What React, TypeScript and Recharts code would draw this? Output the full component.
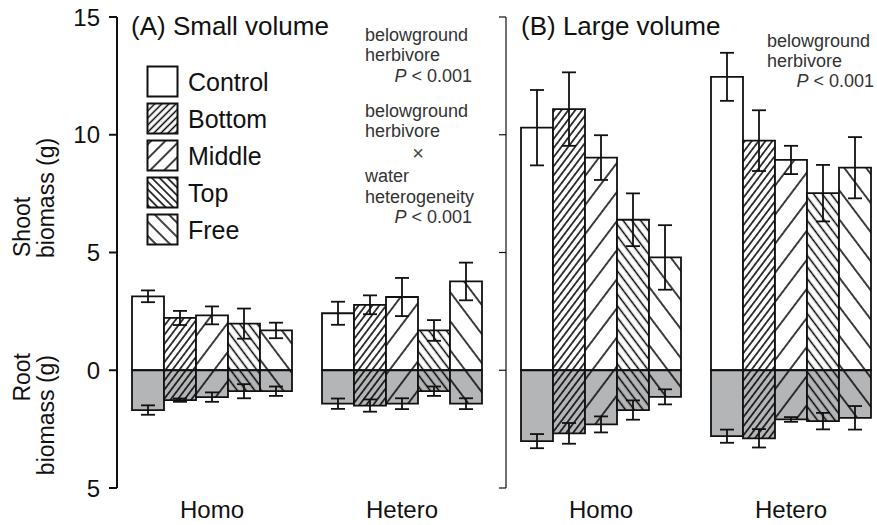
import { Bar, BarChart, ErrorBar, Legend, XAxis, YAxis } from 'recharts'

const treatments = ['Control', 'Bottom', 'Middle', 'Top', 'Free']
const groups = ['Homo', 'Hetero']
const yTicks = [-5, 0, 5, 10, 15]

// (A) small volume — shoot up, root down (root read as positive g)
const smallHomoShoot = [3.14, 2.22, 2.33, 1.98, 1.69]
const smallHomoShootSe = [0.25, 0.3, 0.38, 0.64, 0.33]
const smallHomoRoot = [1.69, 1.27, 1.14, 0.89, 0.89]
const smallHomoRootSe = [0.2, 0.07, 0.2, 0.3, 0.2]
const smallHeteroShoot = [2.42, 2.78, 3.11, 1.69, 3.77]
const smallHeteroShootSe = [0.49, 0.4, 0.81, 0.44, 0.8]
const smallHeteroRoot = [1.42, 1.5, 1.42, 0.89, 1.42]
const smallHeteroRootSe = [0.22, 0.26, 0.23, 0.2, 0.23]

// (B) large volume
const largeHomoShoot = [10.3, 11.09, 9.03, 6.39, 4.79]
const largeHomoShootSe = [1.6, 1.56, 0.95, 1.12, 1.37]
const largeHomoRoot = [3.01, 2.68, 2.3, 1.69, 1.13]
const largeHomoRootSe = [0.3, 0.44, 0.34, 0.41, 0.32]
const largeHeteroShoot = [12.46, 9.75, 8.93, 7.52, 8.6]
const largeHeteroShootSe = [1.02, 1.29, 0.6, 1.2, 1.3]
const largeHeteroRoot = [2.8, 2.89, 2.09, 2.16, 2.02]
const largeHeteroRootSe = [0.28, 0.39, 0.1, 0.35, 0.5]

type Row = Record<string, string | number>

function buildRows(
  sets: { shoot: number[]; shootSe: number[]; root: number[]; rootSe: number[] }[],
): Row[] {
  return groups.map((g, gi) => {
    const s = sets[gi]
    const row: Row = { group: g }
    treatments.forEach((t, i) => {
      row[`${t}Shoot`] = s.shoot[i]
      row[`${t}ShootSe`] = s.shootSe[i]
      row[`${t}Root`] = -s.root[i]
      row[`${t}RootSe`] = s.rootSe[i]
    })
    return row
  })
}

const smallData = buildRows([
  { shoot: smallHomoShoot, shootSe: smallHomoShootSe, root: smallHomoRoot, rootSe: smallHomoRootSe },
  { shoot: smallHeteroShoot, shootSe: smallHeteroShootSe, root: smallHeteroRoot, rootSe: smallHeteroRootSe },
])
const largeData = buildRows([
  { shoot: largeHomoShoot, shootSe: largeHomoShootSe, root: largeHomoRoot, rootSe: largeHomoRootSe },
  { shoot: largeHeteroShoot, shootSe: largeHeteroShootSe, root: largeHeteroRoot, rootSe: largeHeteroRootSe },
])

const INK = '#111'
const ROOT_GREY = '#b4b5b7'
const FONT = '"Liberation Sans", Arial, sans-serif'

const hatch: Record<string, { angle: number; gap: number; legendGap: number } | null> = {
  Control: null,
  Bottom: { angle: 37, gap: 5.5, legendGap: 5 },
  Middle: { angle: 37, gap: 17.5, legendGap: 10 },
  Top: { angle: -37, gap: 7, legendGap: 5.5 },
  Free: { angle: -37, gap: 17.5, legendGap: 10 },
}

function fillFor(t: string, part: 'shoot' | 'root' | 'legend') {
  if (!hatch[t]) return part === 'root' ? ROOT_GREY : '#fff'
  return `url(#hatch-${t}-${part})`
}

function Patterns() {
  const defs: JSX.Element[] = []
  treatments.forEach((t) => {
    const h = hatch[t]
    if (!h) return
    const variants: [string, string, number, number][] = [
      ['shoot', '#fff', h.gap, h.angle],
      ['root', ROOT_GREY, h.gap, h.angle],
      ['legend', '#fff', h.legendGap, h.angle > 0 ? 45 : -45],
    ]
    variants.forEach(([part, bg, gap, angle]) => {
      defs.push(
        <pattern
          key={`${t}-${part}`}
          id={`hatch-${t}-${part}`}
          patternUnits="userSpaceOnUse"
          width={gap}
          height={gap}
          patternTransform={`rotate(${angle})`}
        >
          <rect width={gap} height={gap} fill={bg} />
          <line x1={gap / 2} y1={0} x2={gap / 2} y2={gap} stroke="#000" strokeWidth={1.5} />
        </pattern>,
      )
    })
  })
  return (
    <svg width={0} height={0} style={{ position: 'absolute' }}>
      <defs>{defs}</defs>
    </svg>
  )
}

function LegendSwatches() {
  return (
    <svg width={200} height={190} style={{ fontFamily: FONT }}>
      {treatments.map((t, i) => (
        <g key={t} transform={`translate(0, ${i * 37})`}>
          <rect x={1.5} y={1.5} width={30} height={30} fill={fillFor(t, 'legend')} stroke={INK} strokeWidth={2} />
          <text x={42} y={17} dominantBaseline="central" fontSize={25} fill={INK}>
            {t}
          </text>
        </g>
      ))}
    </svg>
  )
}

function bars() {
  const out: JSX.Element[] = []
  treatments.forEach((t) => {
    out.push(
      <Bar key={`${t}s`} dataKey={`${t}Shoot`} stackId={t} fill={fillFor(t, 'shoot')} stroke={INK} strokeWidth={1.8} isAnimationActive={false}>
        <ErrorBar dataKey={`${t}ShootSe`} direction="y" width={7} stroke={INK} strokeWidth={1.8} isAnimationActive={false} />
      </Bar>,
      <Bar key={`${t}r`} dataKey={`${t}Root`} stackId={t} fill={fillFor(t, 'root')} stroke={INK} strokeWidth={1.8} isAnimationActive={false}>
        <ErrorBar dataKey={`${t}RootSe`} direction="y" width={7} stroke={INK} strokeWidth={1.8} isAnimationActive={false} />
      </Bar>,
    )
  })
  return out
}

const xTick = { fontSize: 24, fill: INK, fontFamily: FONT }

export default function App() {
  return (
    <div
      style={{
        position: 'absolute',
        left: 0,
        top: 0,
        width: 877,
        height: 525,
        overflow: 'hidden',
        background: '#fff',
        fontFamily: FONT,
      }}
    >
      <Patterns />

      <div style={{ position: 'absolute', left: 0, top: 0 }}>
        <BarChart
          width={500}
          height={525}
          data={smallData}
          stackOffset="sign"
          barCategoryGap={15}
          barGap={0}
          margin={{ top: 17, right: 3, bottom: 0, left: 0 }}
        >
          <XAxis dataKey="group" axisLine={false} tickLine={false} tickSize={5} tickMargin={8} height={37} tick={xTick} />
          <YAxis
            width={117}
            domain={[-5, 15]}
            ticks={yTicks}
            allowDataOverflow
            tickFormatter={(v: number) => `${Math.abs(v)}`}
            tick={{ fontSize: 24, fill: INK, fontFamily: FONT }}
            tickSize={8}
            tickMargin={9}
            axisLine={{ stroke: INK, strokeWidth: 2 }}
            tickLine={{ stroke: INK, strokeWidth: 2 }}
          />
          <Legend
            layout="vertical"
            align="center"
            verticalAlign="middle"
            wrapperStyle={{ left: 146, top: 65, width: 200, height: 190 }}
            content={() => <LegendSwatches />}
          />
          {bars()}
        </BarChart>
      </div>

      <div style={{ position: 'absolute', left: 400, top: 0 }}>
        <BarChart
          width={500}
          height={525}
          data={largeData}
          stackOffset="sign"
          barCategoryGap={15}
          barGap={0}
          margin={{ top: 17, right: 14, bottom: 0, left: 0 }}
        >
          <XAxis dataKey="group" axisLine={false} tickLine={false} tickSize={5} tickMargin={8} height={37} tick={xTick} />
          <YAxis
            width={106}
            domain={[-5, 15]}
            ticks={yTicks}
            allowDataOverflow
            tickFormatter={() => ''}
            tickSize={7}
            axisLine={{ stroke: INK, strokeWidth: 1.2 }}
            tickLine={{ stroke: INK, strokeWidth: 1.2 }}
          />
          {bars()}
        </BarChart>
      </div>

      <svg
        width={877}
        height={525}
        style={{ position: 'absolute', left: 0, top: 0, pointerEvents: 'none', fontFamily: FONT }}
      >
        <g fontSize={23} fill={INK}>
          <text x={30} y={257} transform="rotate(-90 30 257)">Shoot</text>
          <text x={54} y={258} transform="rotate(-90 54 258)">biomass (g)</text>
          <text x={30} y={353} textAnchor="end" transform="rotate(-90 30 353)">Root</text>
          <text x={54} y={355} textAnchor="end" transform="rotate(-90 54 355)">biomass (g)</text>
        </g>
        <g fontSize={26} fill={INK}>
          <text x={131} y={35}>(A) Small volume</text>
          <text x={521} y={35}>(B) Large volume</text>
        </g>
        <g fontSize={18} fill="#333">
          <text x={365} y={41}>belowground</text>
          <text x={365} y={61}>herbivore</text>
          <text x={472} y={82} textAnchor="end"><tspan fontStyle="italic">P</tspan> &lt; 0.001</text>
          <text x={365} y={117}>belowground</text>
          <text x={365} y={137}>herbivore</text>
          <text x={418} y={160} textAnchor="middle" fontSize={20} fill="#444">×</text>
          <text x={365} y={182}>water</text>
          <text x={365} y={203}>heterogeneity</text>
          <text x={472} y={223} textAnchor="end"><tspan fontStyle="italic">P</tspan> &lt; 0.001</text>
          <text x={767} y={47}>belowground</text>
          <text x={767} y={67}>herbivore</text>
          <text x={874} y={87} textAnchor="end"><tspan fontStyle="italic">P</tspan> &lt; 0.001</text>
        </g>
      </svg>
    </div>
  )
}
